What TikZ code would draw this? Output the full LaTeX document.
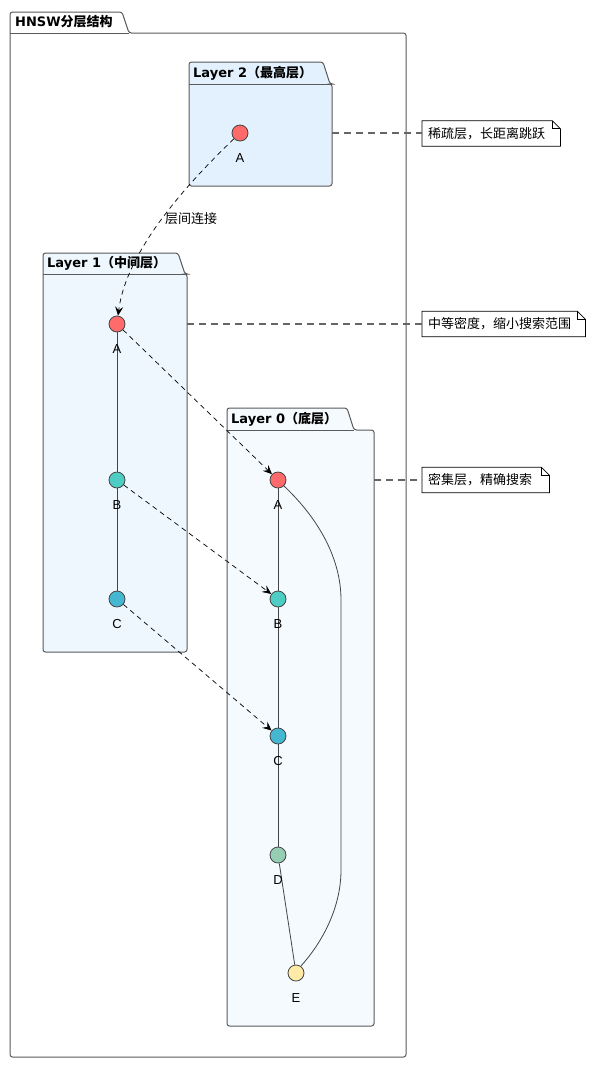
\documentclass[tikz,border=0pt]{standalone}
\usepackage{fontspec}
\setmainfont{Noto Sans CJK SC}
\newfontfamily\latfont{DejaVu Sans}
\newfontfamily\arialfont{Liberation Sans}
\usetikzlibrary{arrows.meta}
\definecolor{pkggray}{HTML}{5A5A5A}
\definecolor{ltwo}{HTML}{E3F0FD}
\definecolor{lone}{HTML}{EEF6FE}
\definecolor{lzero}{HTML}{F5FAFE}
\definecolor{cA}{HTML}{FF6B6B}
\definecolor{cB}{HTML}{4ECDC4}
\definecolor{cC}{HTML}{45B7D1}
\definecolor{cD}{HTML}{96CEB4}
\definecolor{cE}{HTML}{FFEAA7}
\definecolor{edgegray}{HTML}{444444}
\definecolor{linkgray}{HTML}{666666}
\tikzset{
  pkgline/.style={draw=pkggray, line width=1pt, rounded corners=2.5pt},
  pt/.style={circle, draw=edgegray, line width=0.8pt, minimum size=16pt, inner sep=0pt},
  lbl/.style={font=\arialfont\fontsize{13}{15}\selectfont, inner sep=0pt},
  jlbl/.style={font=\fontsize{13}{15}\selectfont, inner sep=0pt},
  ttl/.style={font=\bfseries\fontsize{13}{15}\selectfont, anchor=west, inner sep=0pt},
  link/.style={draw=edgegray, line width=0.8pt},
  jump/.style={draw=black, line width=0.7pt, dash pattern=on 5pt off 4pt, -{Stealth[length=9pt,width=8pt,inset=3.5pt]}},
  notelink/.style={draw=linkgray, line width=1.5pt, dash pattern=on 7pt off 5pt},
  notetext/.style={font=\fontsize{13}{15}\selectfont, anchor=west, inner xsep=6pt, inner ysep=0pt, minimum height=25pt, align=left},
  noteline/.style={draw=black, line width=0.8pt}
}
\newcommand\drawpkg[8]{%
  \filldraw[pkgline, fill=#8] (#1,#3) -- (#1,#2) -- (#4,#2) -- (#5,#3) -- (#6,#3) -- (#6,#7) -- (#1,#7) -- cycle;
  \draw[draw=pkggray, line width=1pt] (#1,#3) -- (#5,#3);}
\newcommand\notefold[1]{%
  \draw[noteline] (#1.north west) -- ([xshift=-8pt]#1.north east) -- ([yshift=-8pt]#1.north east) -- (#1.south east) -- (#1.south west) -- cycle;
  \draw[noteline] ([xshift=-8pt]#1.north east) |- ([yshift=-8pt]#1.north east);}
\begin{document}
\begin{tikzpicture}[x=1pt,y=-1pt]
\useasboundingbox (0,0) rectangle (593,1066);
% packages
\drawpkg{10}{12}{33}{122}{129}{406}{1057}{white}
\node[ttl] (t) at (15,22) {{\latfont HNSW}分层结构};
\drawpkg{189}{62}{84}{323}{330}{332}{186}{ltwo}
\node[ttl] (t2) at (193,73) {{\latfont Layer 2}（最高层）};
\drawpkg{43}{253}{274}{178}{185}{187}{652}{lone}
\node[ttl] (t1) at (47,263.5) {{\latfont Layer 1}（中间层）};
\drawpkg{227}{408}{430}{347}{354}{374}{1026}{lzero}
\node[ttl] (t0) at (231,419) {{\latfont Layer 0}（底层）};
% points
\node[pt, fill=cA] (L2A) at (240,133) {};
\node[pt, fill=cA] (L1A) at (117,324) {};
\node[pt, fill=cB] (L1B) at (117,480) {};
\node[pt, fill=cC] (L1C) at (117,599) {};
\node[pt, fill=cA] (L0A) at (278,480) {};
\node[pt, fill=cB] (L0B) at (278,599) {};
\node[pt, fill=cC] (L0C) at (278,736) {};
\node[pt, fill=cD] (L0D) at (278,855) {};
\node[pt, fill=cE] (L0E) at (296,973) {};
% intra-layer links
\draw[link] (L1A) -- (L1B);
\draw[link] (L1B) -- (L1C);
\draw[link] (L0A) -- (L0B);
\draw[link] (L0B) -- (L0C);
\draw[link] (L0C) -- (L0D);
\draw[link] (L0D) -- (L0E);
\draw[link] (L0A.-45) .. controls (320,520) and (341,560) .. (341,600) -- (341,870) .. controls (341,910) and (320,945) .. (L0E.55);
% labels
\node[lbl] (lL2A) at (240,158) {A};
\node[lbl] (lL1A) at (117,349) {A};
\node[lbl] (lL1B) at (117,505) {B};
\node[lbl] (lL1C) at (117,624) {C};
\node[lbl] (lL0A) at (278,505) {A};
\node[lbl] (lL0B) at (278,624) {B};
\node[lbl] (lL0C) at (278,761) {C};
\node[lbl] (lL0D) at (278,880) {D};
\node[lbl] (lL0E) at (296,998) {E};
% inter-layer jumps
\draw[jump] (L2A) .. controls (170,200) and (125,260) .. (L1A);
\node[jlbl] (jl) at (191,219) {层间连接};
\draw[jump] (L1A) -- (L0A);
\draw[jump] (L1B) -- (L0B);
\draw[jump] (L1C) -- (L0C);
% notes
\node[notetext, minimum width=138pt, text width=126pt] (n1) at (422,133.5) {稀疏层，长距离跳跃};
\notefold{n1}
\node[notetext, minimum width=163pt, text width=151pt] (n2) at (422,324) {中等密度，缩小搜索范围};
\notefold{n2}
\node[notetext, minimum width=127pt, text width=115pt] (n3) at (422,480) {密集层，精确搜索};
\notefold{n3}
\coordinate (r2) at (332,133);
\coordinate (r1) at (187,324);
\coordinate (r0) at (374,480);
\draw[notelink] (r2) -- (r2 -| n1.west);
\draw[notelink] (r1) -- (r1 -| n2.west);
\draw[notelink] (r0) -- (r0 -| n3.west);
\end{tikzpicture}
\end{document}
